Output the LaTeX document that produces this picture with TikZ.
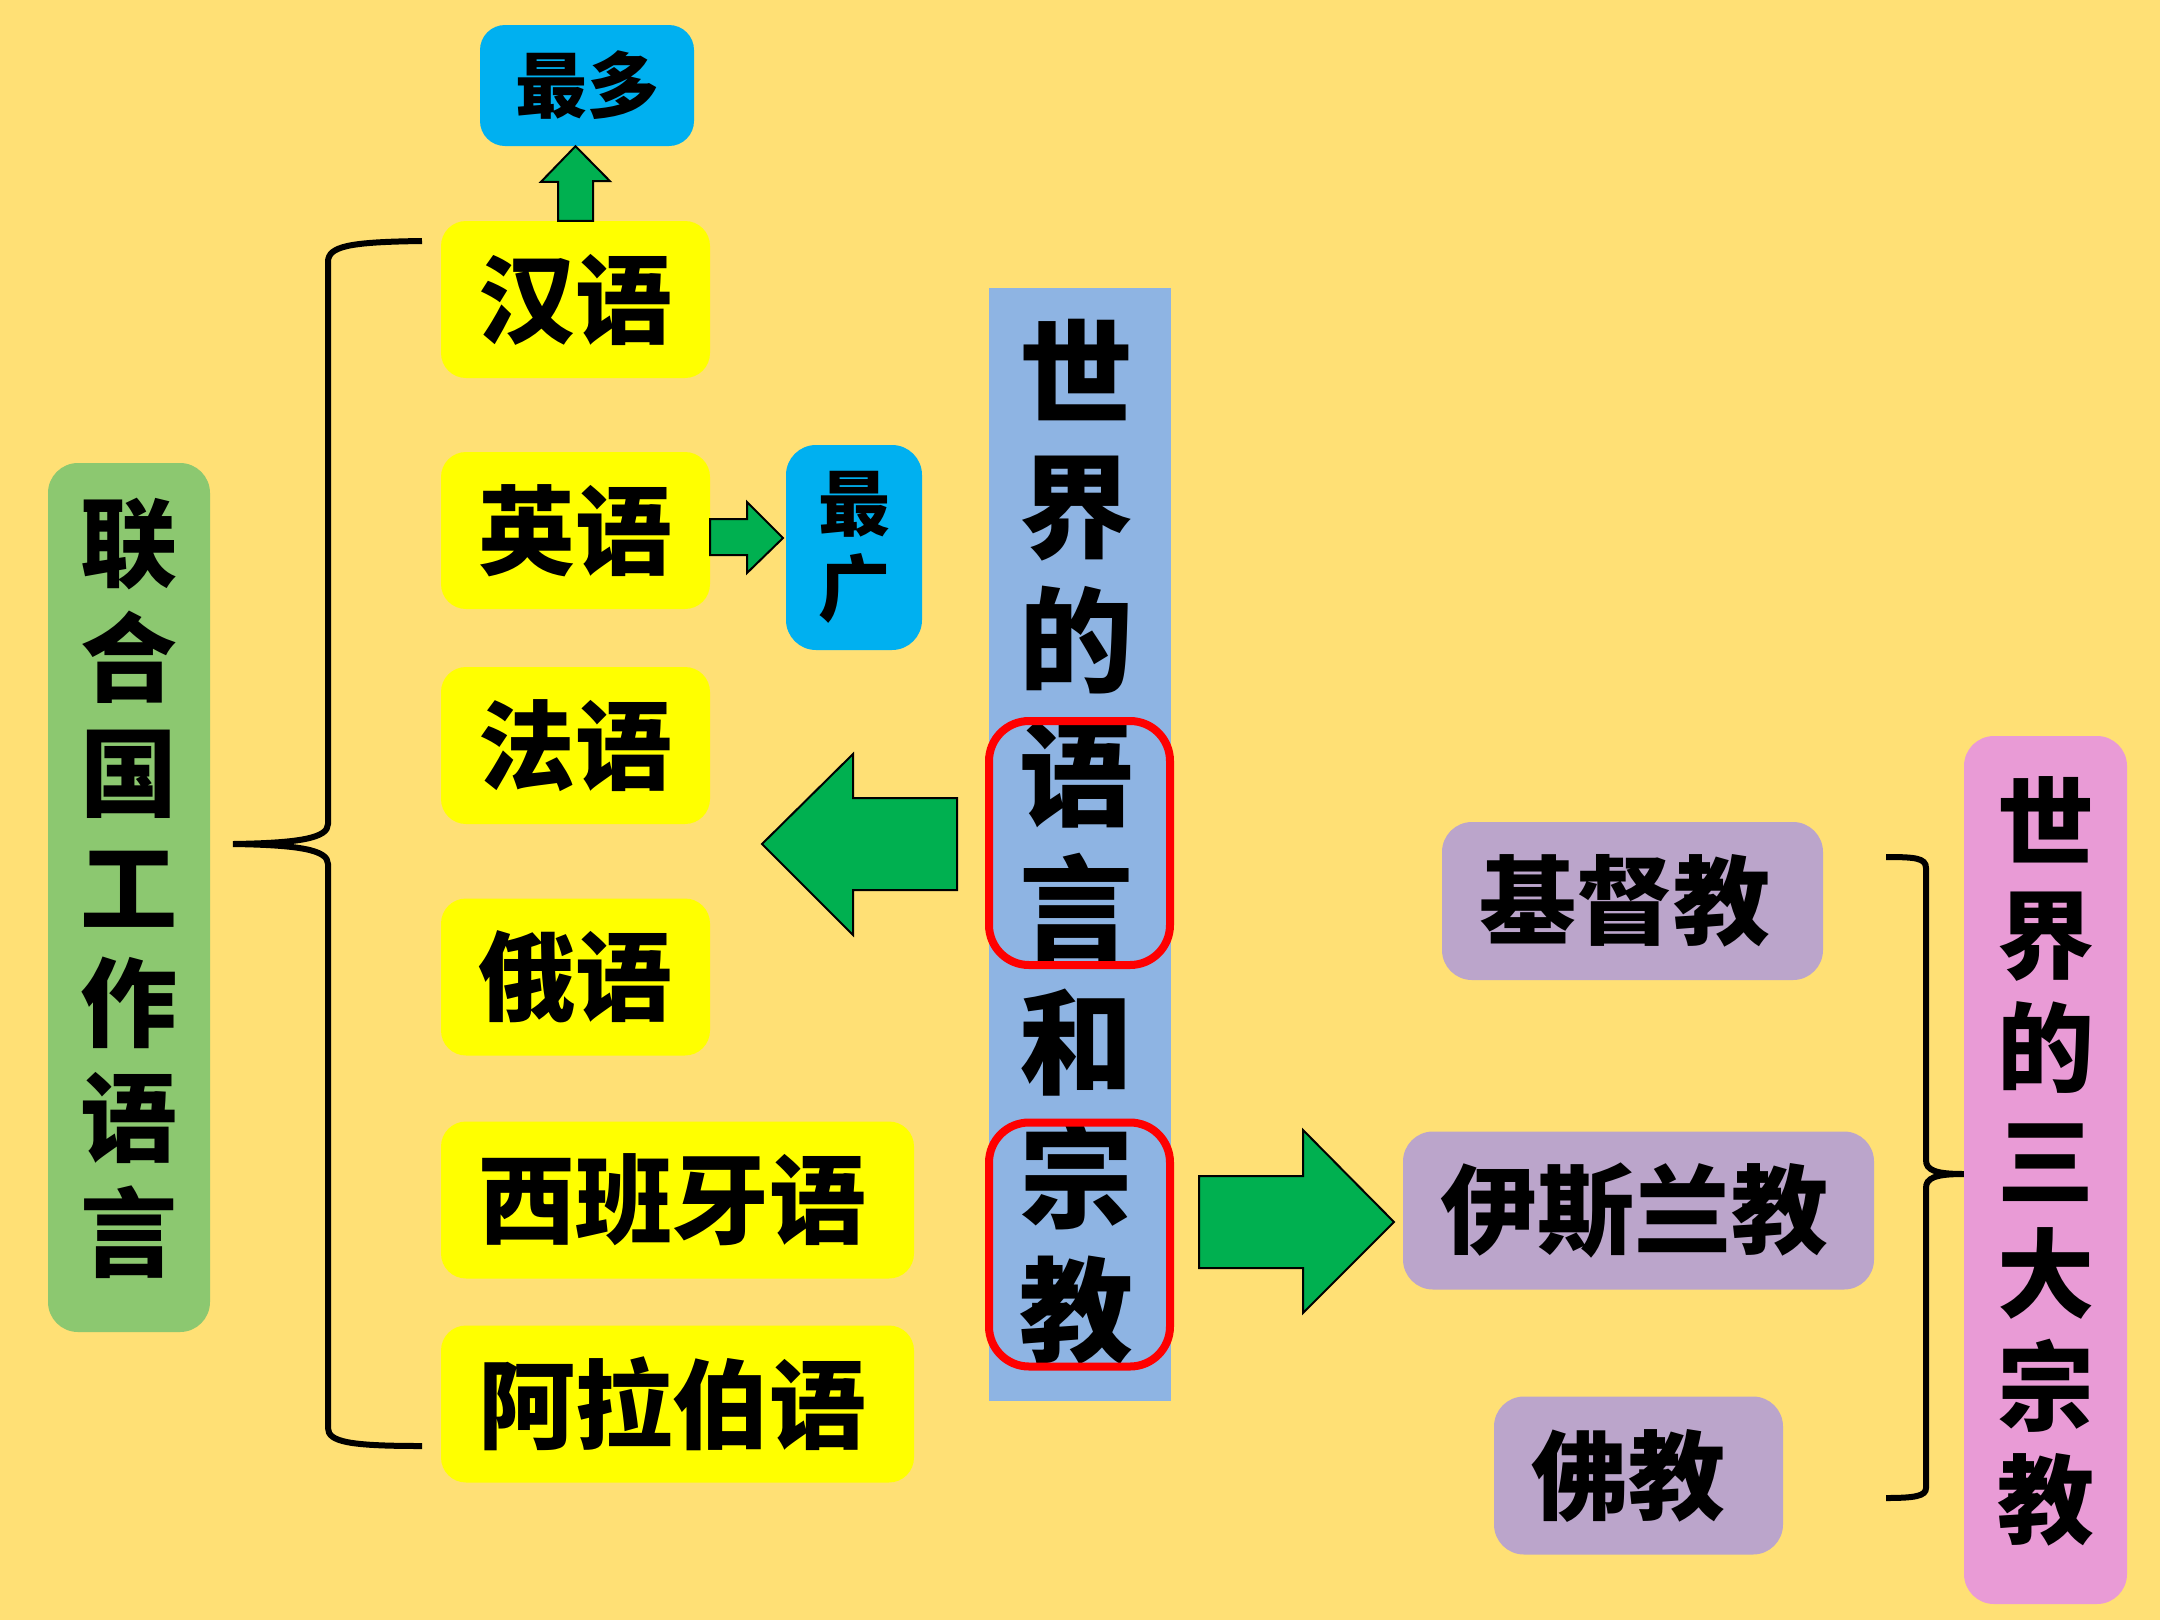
\documentclass[tikz,border=0pt]{standalone}
\usepackage{fontspec}
\newfontfamily\cjk{Noto Sans CJK SC}
\newcommand\myfs[2]{\fontsize{#1}{#2}\selectfont}
\definecolor{bgc}{HTML}{FFE075}
\definecolor{ybox}{HTML}{FFFF00}
\definecolor{cbox}{HTML}{00B0F0}
\definecolor{gbox}{HTML}{8CC870}
\definecolor{colc}{HTML}{8EB4E3}
\definecolor{pbox}{HTML}{BBA5CB}
\definecolor{kbox}{HTML}{E99BD6}
\definecolor{arr}{HTML}{00B050}
\begin{document}
\begin{tikzpicture}[x=1pt,y=-1pt,
  box/.style={rounded corners=25pt, inner sep=0pt, align=center},
  tA/.style={font=\cjk\bfseries\myfs{97}{116}},
  tS/.style={font=\cjk\bfseries\myfs{72}{85}},
  tC/.style={font=\cjk\bfseries\myfs{114}{134}},
  yb/.style={box, fill=ybox, tA, minimum height=157pt},
  pb/.style={box, fill=pbox, tA, rounded corners=30pt, minimum height=158pt},
  garrow/.style={fill=arr, draw=black, line width=2pt, line join=miter},
  brk/.style={draw=black, line width=6pt},
  redbox/.style={draw=red, line width=8pt, rounded corners=40pt, inner sep=0pt, minimum width=181pt, minimum height=244pt}]
\fill[bgc] (0,0) rectangle (2160,1620);
\useasboundingbox (0,0) rectangle (2160,1620);

% left column of languages
\node[box, fill=gbox, rounded corners=30pt, minimum width=162pt, minimum height=869pt] (un) at (129,897.5) {};
\node[font=\cjk\bfseries\myfs{97}{115}, align=center, inner sep=0pt] (unt) at (129,888) {联\\合\\国\\工\\作\\语\\言};
\node[yb, minimum width=269pt] (han) at (575.5,299.5) {汉语};
\node[yb, minimum width=269pt] (ying) at (575.5,530.5) {英语};
\node[yb, minimum width=269pt] (fa) at (575.5,745.5) {法语};
\node[yb, minimum width=269pt] (e) at (575.5,977) {俄语};
\node[yb, minimum width=473pt] (xi) at (677.5,1200) {\hspace*{-10pt}西班牙语};
\node[yb, minimum width=473pt] (ala) at (677.5,1404) {\hspace*{-10pt}阿拉伯语};
\node[box, fill=cbox, tS, minimum width=214pt, minimum height=121pt] (zuiduo) at (587,85.5) {最多};
\node[box, fill=cbox, tS, rounded corners=30pt, minimum width=136pt, minimum height=205pt] (zuiguang) at (854,547.5) {最\\广};

% centre column
\node[fill=colc, minimum width=182pt, minimum height=1113pt, inner sep=0pt] (col) at (1080,844.5) {};
\node[tC, align=center, inner sep=0pt] (colt) at (1076,842) {世\\界\\的\\语\\言\\和\\宗\\教};
\node[redbox] (r1) at (1079.5,843) {};
\node[redbox] (r2) at (1079.5,1244.5) {};

% right side
\node[pb, minimum width=381pt] (ji) at (1632.5,901) {\hspace*{-16pt}基督教};
\node[pb, minimum width=471pt] (yi) at (1638.5,1210.5) {\hspace*{-8pt}伊斯兰教};
\node[pb, minimum width=289pt] (fo) at (1638.5,1475.5) {\hspace*{-20pt}佛教};
\node[box, fill=kbox, rounded corners=30pt, minimum width=163pt, minimum height=868pt] (san) at (2045.5,1170) {};
\node[font=\cjk\bfseries\myfs{97}{113}, align=center, inner sep=0pt] (sant) at (2045.5,1161) {世\\界\\的\\三\\大\\宗\\教};

% arrows
\coordinate (upt) at (han.north |- zuiduo.south);
\draw[garrow] (upt) -- ++(34.5,35) -- ++(-17,0) -- (han.north -| 593,0) -- (han.north -| 558,0) -- ++(0,-39) -- ++(-17,0) -- cycle;
\coordinate (rpt) at (783,538);
\draw[garrow] (rpt) -- (747,573) -- (747,555) -- (ying.east |- 0,555) -- (ying.east |- 0,519) -- (747,519) -- (747,502) -- cycle;
\coordinate (lt) at (762,844);
\draw[garrow] (lt) -- (853,754) -- (853,798) -- (957,798) -- (957,890) -- (853,890) -- (853,935) -- cycle;
\coordinate (rt) at (1394,1222);
\draw[garrow] (rt) -- (1303,1313) -- (1303,1268) -- (1199,1268) -- (1199,1176) -- (1303,1176) -- (1303,1130) -- cycle;

% brackets
\coordinate (lb) at (233,844);
\draw[brk] (422,241) .. controls (350,242) and (328,246) .. (328,262) -- (328,824)
  .. controls (328,838) and (300,843) .. (lb)
  .. controls (300,845) and (328,850) .. (328,864) -- (328,1428)
  .. controls (328,1442) and (350,1446) .. (422,1446);
\coordinate (rb) at (san.west |- 0,1174);
\draw[brk] (1886,857) .. controls (1915,857) and (1926,858) .. (1926,868) -- (1926,1160)
  .. controls (1926,1170) and (1935,1174) .. (rb)
  .. controls (1935,1174) and (1926,1178) .. (1926,1188) -- (1926,1488)
  .. controls (1926,1496) and (1915,1498) .. (1886,1498);
\end{tikzpicture}
\end{document}
